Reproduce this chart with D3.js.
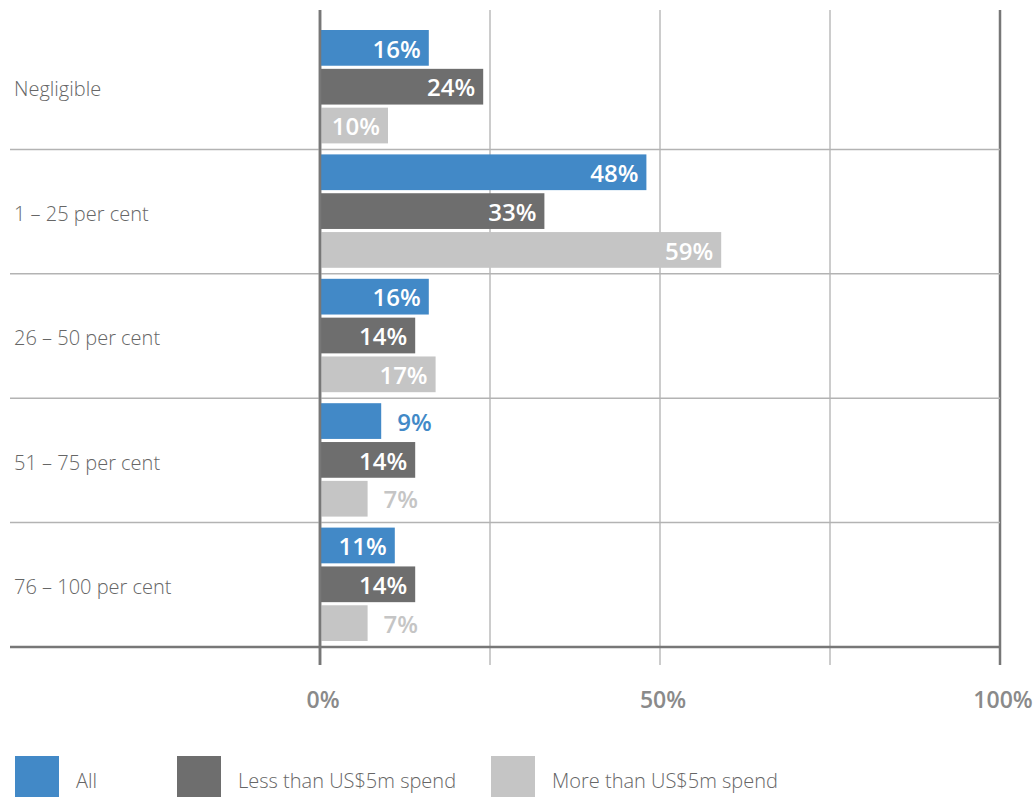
<!DOCTYPE html>
<html>
<head>
<meta charset="utf-8">
<script src="https://cdn.jsdelivr.net/npm/d3@7"></script>
<style>
  html, body { margin: 0; padding: 0; background: #fff; }
  svg { display: block; font-family: "Open Sans", "Noto Sans", sans-serif; }
</style>
</head>
<body>
<svg id="chart" width="1036" height="797"></svg>
<script>
// Share of spend, by category and respondent group
const categories = ["Negligible", "1 – 25 per cent", "26 – 50 per cent", "51 – 75 per cent", "76 – 100 per cent"];
const seriesNames = ["All", "Less than US$5m spend", "More than US$5m spend"];
const seriesColors = ["#4289c7", "#6e6e6e", "#c5c5c5"];
const allValues = [16, 48, 16, 9, 11];
const lessThan5m = [24, 33, 14, 14, 14];
const moreThan5m = [10, 59, 17, 7, 7];
const tickValues = [0, 50, 100];
const gridValues = [0, 25, 50, 75, 100];

const series = [allValues, lessThan5m, moreThan5m];

const svg = d3.select("#chart");

const x = d3.scaleLinear().domain([0, 100]).range([320, 1000]);
const y = d3.scaleBand().domain(categories).range([25, 647]).paddingInner(0).paddingOuter(0);
const ySub = d3.scaleBand().domain(d3.range(seriesNames.length)).range([5, y.bandwidth() - 6]).paddingInner(0.08);

// Vertical grid lines (axis at 0 and 100 drawn heavier)
svg.append("g").selectAll("line").data(gridValues).join("line")
  .attr("x1", d => x(d)).attr("x2", d => x(d))
  .attr("y1", 10).attr("y2", 665)
  .attr("stroke", d => (d === 0 || d === 100) ? "#777" : "#999")
  .attr("stroke-width", d => (d === 0 || d === 100) ? 2.5 : 1);

// Horizontal separators between categories
svg.append("g").selectAll("line").data(categories.slice(1)).join("line")
  .attr("x1", 10).attr("x2", 1000)
  .attr("y1", d => y(d)).attr("y2", d => y(d))
  .attr("stroke", "#b3b3b3").attr("stroke-width", 1.5);

// Bars
const rows = categories.flatMap((c, i) => series.map((s, k) => ({ cat: c, k, v: s[i] })));

const barG = svg.append("g");
barG.selectAll("rect").data(rows).join("rect")
  .attr("x", x(0))
  .attr("y", d => y(d.cat) + ySub(d.k))
  .attr("width", d => x(d.v) - x(0))
  .attr("height", ySub.bandwidth())
  .attr("fill", d => seriesColors[d.k]);

// Value labels: inside the bar when it is wide enough, otherwise after it
barG.selectAll("text").data(rows).join("text")
  .attr("x", d => d.v >= 10 ? x(d.v) - 8 : x(d.v) + 16)
  .attr("y", d => y(d.cat) + ySub(d.k) + ySub.bandwidth() / 2 + 1)
  .attr("dy", "0.36em")
  .attr("text-anchor", d => d.v >= 10 ? "end" : "start")
  .attr("font-size", 24)
  .attr("font-weight", 600)
  .attr("fill", d => d.v >= 10 ? "#fff" : seriesColors[d.k])
  .text(d => d.v + "%");

// Baseline
svg.append("line")
  .attr("x1", 10).attr("x2", 1000)
  .attr("y1", 647).attr("y2", 647)
  .attr("stroke", "#777").attr("stroke-width", 2.5);

// Axis at zero drawn on top of the bars
svg.append("line")
  .attr("x1", x(0)).attr("x2", x(0)).attr("y1", 10).attr("y2", 665)
  .attr("stroke", "#777").attr("stroke-width", 2.5);

// Category labels
svg.append("g").selectAll("text").data(categories).join("text")
  .attr("x", 14)
  .attr("y", d => y(d) + y.bandwidth() / 2 + 2)
  .attr("dy", "0.36em")
  .attr("font-size", 20)
  .attr("font-weight", 300)
  .attr("fill", "#666")
  .text(d => d);

// Tick labels
svg.append("g").selectAll("text").data(tickValues).join("text")
  .attr("x", d => x(d) + 3)
  .attr("y", 700)
  .attr("dy", "0.36em")
  .attr("text-anchor", "middle")
  .attr("font-size", 23)
  .attr("font-weight", 600)
  .attr("fill", "#8a8a8a")
  .text(d => d + "%");

// Legend
const legendX = [15, 177, 491];
const legend = svg.append("g").selectAll("g").data(seriesNames).join("g")
  .attr("transform", (d, i) => `translate(${legendX[i]},756)`);
legend.append("rect")
  .attr("width", 44).attr("height", 41)
  .attr("fill", (d, i) => seriesColors[i]);
legend.append("text")
  .attr("x", 61).attr("y", 25)
  .attr("dy", "0.36em")
  .attr("font-size", 20)
  .attr("font-weight", 300)
  .attr("fill", "#666")
  .text(d => d);
</script>
</body>
</html>
